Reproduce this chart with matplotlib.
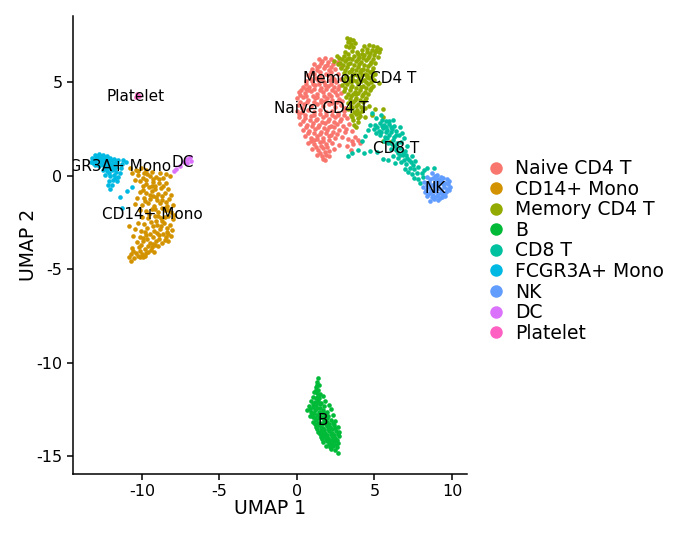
import matplotlib
matplotlib.use("Agg")
import matplotlib.pyplot as plt
from matplotlib.lines import Line2D

plt.rcParams['axes.unicode_minus'] = False

# cell embeddings, (UMAP 1, UMAP 2)
naive = [
    (1.42,6.25),(1.81,6.31),(2.18,6.22),(1.12,5.98),(1.55,6.02),(1.93,5.91),(2.35,5.96),(2.62,6.08),
    (0.95,5.71),(1.31,5.66),(1.72,5.74),(2.09,5.62),(2.48,5.69),(2.81,5.78),(0.72,5.38),(1.08,5.42),
    (1.49,5.31),(1.88,5.44),(2.27,5.29),(2.66,5.41),(0.61,5.08),(0.98,5.03),(1.36,5.12),(1.74,4.98),
    (2.13,5.09),(2.52,5.01),(2.83,5.15),(0.38,4.76),(0.79,4.71),(1.19,4.82),(1.58,4.68),(1.97,4.79),
    (2.36,4.72),(2.74,4.81),(0.12,4.45),(0.51,4.41),(0.92,4.52),(1.31,4.38),(1.69,4.49),(2.08,4.36),
    (2.47,4.47),(2.86,4.42),(-0.02,4.12),(0.36,4.18),(0.74,4.06),(1.14,4.16),(1.52,4.03),(1.91,4.14),
    (2.29,4.02),(2.68,4.11),(0.05,3.79),(0.46,3.84),(0.88,3.72),(1.27,3.82),(1.66,3.71),(2.04,3.81),
    (2.43,3.69),(2.82,3.77),(3.09,3.62),(0.02,3.46),(0.33,3.41),(0.71,3.52),(1.09,3.39),(1.48,3.49),
    (1.86,3.38),(2.25,3.47),(2.63,3.36),(3.01,3.44),(0.11,3.12),(0.52,3.06),(0.91,3.17),(1.31,3.04),
    (1.69,3.14),(2.08,3.02),(2.46,3.11),(2.85,3.01),(3.21,3.09),(0.22,2.78),(0.63,2.72),(1.03,2.83),
    (1.42,2.69),(1.81,2.79),(2.19,2.67),(2.58,2.77),(2.96,2.66),(3.36,2.74),(0.38,2.44),(0.79,2.38),
    (1.18,2.49),(1.57,2.35),(1.95,2.46),(2.34,2.33),(2.73,2.42),(3.12,2.31),(3.52,2.39),(0.52,2.09),
    (0.91,2.02),(1.29,2.14),(1.68,2.01),(2.07,2.11),(2.46,1.98),(2.88,2.06),(3.31,1.96),(3.74,2.04),
    (0.74,1.73),(1.11,1.68),(1.49,1.79),(1.86,1.66),(2.23,1.76),(2.71,1.62),(3.22,1.58),(3.62,1.69),
    (4.05,1.72),(0.98,1.41),(1.34,1.36),(1.71,1.46),(2.06,1.33),(2.38,1.42),(3.48,1.38),(1.28,1.09),
    (1.61,1.02),(1.87,1.12),(2.09,1.04),(1.68,0.88),(1.82,0.83),(0.83,2.97),(1.54,3.91),(2.21,5.51),
    (1.03,4.27),(0.31,3.63),(1.77,2.55),(2.61,2.21),(1.12,1.91),(0.56,4.63),(2.92,4.01),(1.41,5.83),
    # filling between the rows
    (1.62,6.13),(2.01,6.09),(1.27,5.81),(1.78,5.86),(2.22,5.79),(0.88,5.54),(1.51,5.52),(1.99,5.37),
    (0.83,5.21),(1.21,5.24),(1.63,5.15),(2.41,5.16),(0.58,4.89),(1.02,4.92),(1.42,4.88),(1.82,4.86),
    (2.22,4.91),(0.24,4.59),(0.71,4.58),(1.11,4.61),(1.49,4.57),(1.89,4.61),(2.28,4.58),(2.65,4.63),
    (0.19,4.29),(0.61,4.26),(1.28,4.22),(1.72,4.27),(2.18,4.24),(2.56,4.29),(0.21,3.94),(0.67,3.91),
    (1.09,3.95),(1.83,3.96),(2.24,3.89),(2.61,3.92),(0.15,3.28),(0.53,3.24),(1.12,3.21),(1.51,3.27),
    (1.89,3.22),(2.27,3.25),(2.66,3.21),(3.04,3.24),(0.41,2.93),(1.23,2.95),(1.62,2.88),(2.01,2.92),
    (2.38,2.86),(2.77,2.91),(0.59,2.59),(0.99,2.63),(1.38,2.57),(2.08,2.61),(2.41,2.58),(3.15,2.51),
    (0.71,2.25),(1.09,2.29),(1.48,2.21),(1.85,2.26),(2.22,2.19),(0.93,1.85),(1.32,1.93),(1.71,1.87),
    (2.06,1.91),(1.22,1.52),(1.58,1.59),(1.93,1.53),(3.58,1.86),(3.91,1.88),(1.48,1.21),(1.84,1.26),
]
cd14 = [
    (-10.78,0.41),(-10.41,0.32),(-10.05,0.38),(-9.72,0.27),(-9.38,0.21),(-8.83,0.11),(-8.42,0.09),
    (-10.62,0.12),(-10.23,0.03),(-9.86,0.11),(-9.48,-0.02),(-9.12,-0.08),(-8.65,-0.14),(-8.22,-0.05),
    (-10.48,-0.22),(-10.11,-0.31),(-9.73,-0.24),(-9.32,-0.36),(-8.92,-0.41),(-8.48,-0.38),
    (-9.95,-0.57),(-9.56,-0.64),(-9.18,-0.55),(-8.78,-0.69),(-8.35,-0.73),(-10.12,-0.88),(-9.71,-0.94),
    (-9.33,-0.83),(-8.94,-0.98),(-8.52,-0.91),(-8.14,-1.02),(-10.32,-1.21),(-9.87,-1.18),(-9.48,-1.27),
    (-9.08,-1.15),(-8.68,-1.31),(-8.27,-1.24),(-10.46,-1.52),(-10.02,-1.58),(-9.63,-1.45),(-9.22,-1.61),
    (-8.81,-1.49),(-8.41,-1.63),(-8.02,-1.55),(-10.14,-1.86),(-9.76,-1.92),(-9.35,-1.79),(-8.94,-1.95),
    (-8.53,-1.83),(-8.12,-1.97),(-7.92,-2.11),(-10.02,-2.21),(-9.58,-2.27),(-9.17,-2.14),(-8.75,-2.29),
    (-8.34,-2.18),(-8.02,-2.35),(-10.82,-2.72),(-10.28,-2.55),(-9.85,-2.61),(-9.42,-2.49),(-9.01,-2.64),
    (-8.58,-2.53),(-8.18,-2.67),(-10.47,-2.88),(-10.08,-2.94),(-9.66,-2.83),(-9.24,-2.97),(-8.83,-2.86),
    (-8.41,-3.01),(-8.08,-2.91),(-10.56,-3.22),(-10.14,-3.27),(-9.72,-3.16),(-9.31,-3.31),(-8.89,-3.19),
    (-8.47,-3.29),(-8.13,-3.22),(-10.35,-3.58),(-9.93,-3.52),(-9.51,-3.63),(-9.09,-3.49),(-8.68,-3.61),
    (-8.33,-3.52),(-10.62,-3.88),(-10.21,-3.83),(-9.78,-3.92),(-9.36,-3.81),(-8.94,-3.79),(-10.74,-4.17),
    (-10.38,-4.12),(-9.97,-4.19),(-9.58,-4.08),(-9.24,-4.11),(-10.81,-4.38),(-10.52,-4.41),(-10.13,-4.35),
    (-9.82,-4.29),(-10.68,-4.55),(-9.48,-1.02),(-8.74,-2.45),(-9.67,-3.42),(-9.13,-0.71),(-8.51,-1.76),
    # filling between the rows
    (-10.24,0.22),(-9.91,-0.12),(-9.65,0.06),(-9.28,-0.18),(-8.88,-0.16),(-9.72,-0.46),(-9.34,-0.58),
    (-8.62,-0.56),(-9.92,-0.76),(-8.73,-1.08),(-9.28,-1.08),(-8.45,-1.42),(-9.03,-1.33),(-9.78,-1.36),
    (-9.14,-1.78),(-8.72,-1.71),(-8.31,-1.84),(-9.52,-2.05),(-9.12,-2.44),(-8.52,-2.21),(-8.96,-2.16),
    (-9.32,-2.72),(-8.75,-2.68),(-8.38,-2.82),(-9.82,-3.01),(-9.45,-3.14),(-9.05,-3.05),(-8.66,-3.11),
    (-8.31,-3.12),(-9.92,-3.32),(-9.28,-3.65),(-8.88,-3.42),(-8.53,-3.44),(-10.08,-3.71),(-9.62,-3.78),
    (-9.15,-3.72),(-10.55,-4.02),(-10.12,-4.02),(-9.76,-4.13),(-9.42,-3.98),(-10.28,-4.28),(-9.95,-4.38),
]
memory = [
    (3.21,7.38),(3.42,7.31),(3.63,7.22),(3.28,7.12),(3.51,7.02),(3.76,7.08),(3.38,6.85),(4.35,6.92),
    (4.62,6.98),(4.91,6.94),(5.18,6.88),(5.36,6.79),(4.18,6.72),(4.51,6.76),(4.82,6.69),(5.08,6.72),
    (5.31,6.58),(3.12,6.62),(3.55,6.68),(3.85,6.58),(2.71,6.28),(3.03,6.38),(3.34,6.31),(3.68,6.41),
    (4.02,6.35),(4.34,6.44),(4.67,6.38),(4.97,6.42),(5.21,6.32),(2.41,6.12),(2.78,6.02),(3.11,6.11),
    (3.45,6.04),(3.79,6.14),(4.12,6.06),(4.45,6.16),(4.78,6.09),(5.06,6.03),(2.87,5.74),(3.22,5.82),
    (3.56,5.71),(3.91,5.81),(4.24,5.72),(4.58,5.83),(4.91,5.74),(3.02,5.46),(3.36,5.52),(3.71,5.42),
    (4.05,5.54),(4.38,5.44),(4.72,5.51),(5.02,5.42),(2.96,5.14),(3.28,5.21),(3.63,5.11),(3.98,5.24),
    (4.31,5.13),(4.65,5.21),(4.98,5.09),(5.31,4.94),(2.91,4.83),(3.24,4.88),(3.57,4.79),(3.91,4.91),
    (4.24,4.81),(4.57,4.89),(4.88,4.78),(3.05,4.51),(3.39,4.57),(3.72,4.46),(4.06,4.59),(4.39,4.49),
    (4.71,4.55),(3.18,4.19),(3.51,4.26),(3.84,4.14),(4.17,4.27),(4.48,4.17),(3.31,3.88),(3.64,3.94),
    (3.96,3.83),(4.27,3.92),(4.62,3.71),(5.01,3.58),(5.52,3.58),(3.28,3.56),(3.58,3.62),(3.89,3.52),
    (4.18,3.47),(3.46,3.24),(3.78,3.29),(4.08,3.18),(4.41,3.11),(3.62,2.95),(3.91,2.88),(3.71,2.71),
    (3.78,2.58),(4.85,3.22),(5.58,3.12),(2.58,6.41),(4.12,5.62),(3.46,4.98),(4.54,5.28),(3.81,4.35),
    (6.03,1.81),(5.53,1.83),
    # filling between the rows
    (3.36,7.21),(3.18,6.95),(3.61,6.86),(4.49,6.62),(4.74,6.54),(5.01,6.58),(3.29,6.49),(3.92,6.48),
    (4.21,6.51),(2.91,6.21),(3.24,6.22),(3.58,6.21),(3.96,6.24),(4.28,6.28),(4.61,6.26),(4.91,6.21),
    (2.62,5.98),(2.96,5.91),(3.32,5.94),(3.68,5.92),(4.02,5.96),(4.35,5.93),(4.72,5.96),(3.12,5.64),
    (3.48,5.61),(3.82,5.63),(4.18,5.64),(4.49,5.65),(4.82,5.61),(3.16,5.33),(3.54,5.34),(3.86,5.36),
    (4.21,5.38),(4.51,5.39),(4.85,5.31),(3.08,5.01),(3.42,5.08),(3.78,5.03),(4.14,5.04),(4.47,5.02),
    (4.79,5.01),(3.11,4.69),(3.46,4.72),(3.79,4.69),(4.14,4.71),(4.48,4.69),(4.79,4.66),(3.28,4.38),
    (3.62,4.36),(3.96,4.42),(4.29,4.38),(4.58,4.36),(3.42,4.08),(3.76,4.04),(4.08,4.05),(4.38,4.03),
    (3.48,3.74),(3.79,3.73),(4.11,3.69),(4.42,3.61),(3.71,3.41),(3.99,3.36),(3.92,3.08),(3.58,3.12),
]
b_cells = [
    (1.38,-10.82),(1.31,-11.02),(1.42,-11.18),(1.24,-11.31),(1.35,-11.46),(1.12,-11.58),(1.31,-11.64),
    (1.48,-11.69),(1.05,-11.82),(1.22,-11.88),(1.44,-11.92),(1.71,-11.78),(0.92,-12.06),(1.14,-12.12),
    (1.36,-12.03),(1.58,-12.16),(1.82,-12.08),(0.78,-12.31),(1.01,-12.38),(1.26,-12.28),(1.49,-12.41),
    (1.73,-12.34),(2.05,-12.29),(0.65,-12.56),(0.92,-12.62),(1.16,-12.52),(1.41,-12.66),(1.65,-12.55),
    (1.91,-12.62),(2.18,-12.48),(0.81,-12.84),(1.06,-12.91),(1.31,-12.78),(1.55,-12.93),(1.79,-12.82),
    (2.03,-12.88),(2.31,-12.79),(1.02,-13.16),(1.24,-13.08),(1.48,-13.21),(1.72,-13.11),(1.96,-13.19),
    (2.21,-13.06),(2.44,-13.15),(1.21,-13.43),(1.43,-13.36),(1.67,-13.48),(1.91,-13.38),(2.14,-13.47),
    (2.38,-13.35),(2.62,-13.44),(1.35,-13.71),(1.58,-13.64),(1.82,-13.76),(2.06,-13.66),(2.29,-13.75),
    (2.53,-13.64),(2.74,-13.72),(1.52,-13.98),(1.76,-13.92),(2.01,-14.03),(2.24,-13.94),(2.48,-14.02),
    (2.71,-13.93),(1.68,-14.26),(1.93,-14.19),(2.17,-14.31),(2.41,-14.21),(2.65,-14.28),(1.86,-14.48),
    (2.11,-14.51),(2.34,-14.44),(2.58,-14.49),(2.47,-14.68),(2.62,-14.83),(2.21,-14.62),
    # filling between the rows
    (1.29,-11.18),(1.22,-11.47),(1.38,-11.78),(1.03,-12.21),(1.24,-12.17),(1.48,-12.22),(0.84,-12.46),
    (1.12,-12.71),(1.32,-12.42),(1.56,-12.71),(0.95,-12.74),(1.72,-12.68),(1.41,-12.98),(1.19,-12.96),
    (1.67,-12.97),(1.92,-12.95),(1.14,-13.27),(1.36,-13.23),(1.61,-13.27),(1.85,-13.26),(2.09,-13.29),
    (2.31,-13.22),(1.31,-13.55),(1.54,-13.52),(1.77,-13.59),(2.01,-13.55),(2.24,-13.58),(2.47,-13.52),
    (1.46,-13.83),(1.71,-13.83),(1.95,-13.87),(2.18,-13.82),(2.41,-13.86),(2.62,-13.82),(1.64,-14.08),
    (1.86,-14.09),(2.12,-14.14),(2.35,-14.09),(2.58,-14.13),(2.04,-14.36),(2.26,-14.38),(2.49,-14.36),
]
cd8 = [
    (4.82,3.35),(5.41,3.22),(5.08,3.08),(5.72,2.94),(6.18,2.96),(4.71,2.68),(5.02,2.72),(5.34,2.81),
    (5.63,2.69),(5.91,2.78),(6.24,2.66),(6.62,2.58),(4.58,2.42),(4.94,2.48),(5.27,2.39),(5.56,2.52),
    (5.84,2.41),(6.13,2.49),(6.42,2.36),(6.78,2.28),(4.41,2.11),(5.38,2.16),(5.66,2.08),(5.95,2.19),
    (6.27,2.06),(6.58,2.15),(6.91,1.98),(4.22,1.82),(5.62,1.84),(5.88,1.76),(6.17,1.88),(6.46,1.72),
    (7.08,1.58),(3.52,1.21),(3.96,1.36),(4.35,1.18),(4.74,1.32),(5.16,1.24),(6.08,1.43),(6.38,1.34),
    (6.67,1.47),(6.95,1.31),(3.31,1.02),(5.52,0.88),(5.86,0.81),(6.21,1.03),(6.52,0.96),(6.83,1.09),
    (7.12,0.92),(7.41,1.05),(6.34,0.68),(6.71,0.74),(7.02,0.62),(7.33,0.71),(7.64,0.78),(6.98,0.36),
    (7.29,0.42),(7.58,0.33),(7.84,0.46),(8.42,0.41),(8.82,0.38),(7.44,0.08),(7.72,0.12),(8.08,0.16),
    (7.53,-0.14),(7.82,-0.21),(8.12,-0.09),(7.95,-0.41),(8.21,0.28),(5.73,2.32),(6.04,2.58),(6.33,1.58),
    # filling between the rows
    (5.48,2.95),(5.92,2.92),(5.18,2.58),(5.48,2.64),(5.76,2.58),(6.08,2.32),(5.12,2.29),(5.44,2.31),
    (6.41,2.18),(5.78,1.98),(6.12,1.71),(6.74,1.78),(6.52,1.21),(6.82,1.26),(7.01,1.12),(6.62,1.12),
    (7.22,0.82),(6.88,0.82),(7.48,0.58),(7.18,0.18),
]
fcgr3a = [
    (-13.02,1.08),(-12.78,1.14),(-12.51,1.09),(-12.24,1.05),(-13.22,0.92),(-12.95,0.96),(-12.66,0.94),
    (-12.38,0.91),(-12.08,0.93),(-11.81,0.88),(-11.52,0.85),(-11.24,0.81),(-13.28,0.74),(-13.01,0.78),
    (-12.74,0.72),(-12.45,0.76),(-12.17,0.71),(-11.88,0.68),(-11.61,0.66),(-11.32,0.62),(-11.02,0.71),
    (-13.05,0.56),(-12.78,0.52),(-12.51,0.55),(-12.23,0.48),(-11.95,0.51),(-11.66,0.44),(-11.38,0.39),
    (-12.52,0.31),(-12.24,0.24),(-11.94,0.29),(-11.67,0.21),(-11.41,0.16),(-12.36,0.03),(-12.08,-0.03),
    (-11.81,0.04),(-11.54,-0.06),(-12.12,-0.27),(-11.85,-0.22),(-11.61,-0.31),(-12.21,-0.48),(-11.92,-0.52),
    (-12.05,-0.73),(-11.41,-1.15),(-11.32,-1.72),(-10.98,-0.82),(-10.62,-0.59),
    # filling the dense upper part
    (-12.89,1.02),(-12.62,1.03),(-12.36,1.01),(-13.12,0.84),(-12.84,0.86),(-12.55,0.85),(-12.27,0.82),
    (-11.98,0.81),(-11.68,0.77),(-13.16,0.65),(-12.88,0.64),(-12.62,0.63),(-12.33,0.61),(-12.05,0.59),
    (-11.78,0.56),(-12.38,0.41),(-12.08,0.39),(-11.81,0.33),(-12.12,0.13),(-11.72,-0.12),
]
nk = [
    (8.74,0.12),(9.05,0.04),(8.42,-0.08),(8.76,-0.14),(9.12,-0.17),(9.44,-0.11),(8.21,-0.32),(8.55,-0.36),
    (8.89,-0.41),(9.23,-0.34),(9.57,-0.38),(9.82,-0.29),(8.14,-0.61),(8.47,-0.64),(8.81,-0.58),(9.15,-0.66),
    (9.48,-0.59),(9.86,-0.62),(8.26,-0.88),(8.59,-0.91),(8.93,-0.84),(9.27,-0.93),(9.61,-0.86),(9.79,-0.79),
    (8.37,-1.08),(8.68,-1.16),(9.02,-1.11),(9.34,-1.17),(9.56,-1.08),(8.58,-1.36),(8.82,-1.28),(9.12,-1.33),
    # filling the blob
    (8.92,-0.05),(9.28,-0.08),(8.58,-0.21),(8.94,-0.24),(9.32,-0.22),(9.66,-0.21),(8.36,-0.49),(8.71,-0.48),
    (9.06,-0.51),(9.39,-0.47),(9.72,-0.47),(8.31,-0.76),(8.64,-0.76),(8.98,-0.72),(9.32,-0.77),(9.66,-0.72),
    (8.47,-0.99),(8.79,-1.02),(9.12,-0.98),(9.45,-1.01),(8.86,-1.18),(9.21,-1.22),
]
dc = [(-6.87,0.98),(-7.08,0.88),(-6.83,0.79),(-7.28,0.74),(-7.12,0.66),(-7.52,0.52),(-7.81,0.36),(-7.96,0.24)]
platelet = [(-10.31,4.38),(-10.22,4.27),(-10.36,4.19)]

groups = ["Naive CD4 T", "CD14+ Mono", "Memory CD4 T", "B", "CD8 T", "FCGR3A+ Mono", "NK", "DC", "Platelet"]
colors = ["#F8766D", "#D39200", "#93AA00", "#00BA38", "#00C19F", "#00B9E3", "#619CFF", "#DB72FB", "#FF61C3"]
points = [naive, cd14, memory, b_cells, cd8, fcgr3a, nk, dc, platelet]
label_x = [1.55, -9.35, 4.03, 1.68, 6.4, -12.0, 8.9, -7.35, -10.4]
label_y = [3.58, -2.06, 5.2, -13.1, 1.47, 0.5, -0.67, 0.67, 4.25]

fig = plt.figure(figsize=(6.8, 5.37), dpi=100)
ax = fig.add_axes([73/680, 1 - 474/537, (467-73)/680, (474-16)/537])

for pts, col in zip(points, colors):
    ax.scatter([p[0] for p in pts], [p[1] for p in pts], s=11, color=col, linewidths=0)

for name, x, y in zip(groups, label_x, label_y):
    ax.text(x, y, name, fontsize=11, ha="center", va="center", clip_on=True)

ax.set_xlim(-14.45, 10.97)
ax.set_ylim(-15.96, 8.53)
ax.set_xticks([-10, -5, 0, 5, 10])
ax.set_yticks([5, 0, -5, -10, -15])
ax.tick_params(labelsize=11.5, width=1.1, length=4)
ax.set_xlabel("UMAP 1", fontsize=13.5, labelpad=0)
ax.set_ylabel("UMAP 2", fontsize=13.5, labelpad=-1)
for side in ["top", "right"]:
    ax.spines[side].set_visible(False)
for side in ["left", "bottom"]:
    ax.spines[side].set_linewidth(1.1)

handles = [Line2D([], [], ls="", marker="o", ms=9, color=c, mew=0) for c in colors]
ax.legend(handles, groups, frameon=False, fontsize=13.5, loc="center left",
          bbox_to_anchor=(0.959, 0.487), labelspacing=0.085, handletextpad=0.03, borderaxespad=1.0)

fig.savefig("out.png", dpi=100)
